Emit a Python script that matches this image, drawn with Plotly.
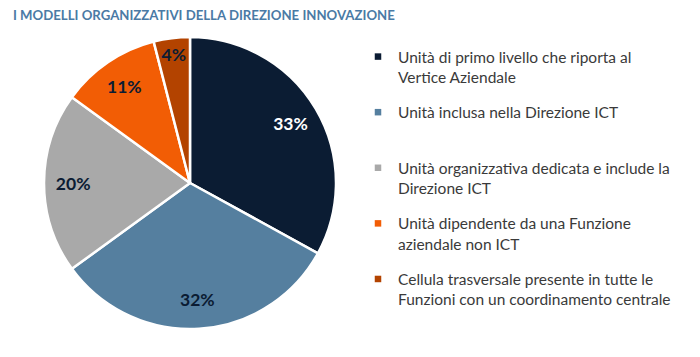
import plotly.graph_objects as go

title_text = "I MODELLI ORGANIZZATIVI DELLA DIREZIONE INNOVAZIONE"
categories = [
    "Unità di primo livello che riporta al<br>Vertice Aziendale",
    "Unità inclusa nella Direzione ICT<br> ",
    "Unità organizzativa dedicata e include la<br>Direzione ICT",
    "Unità dipendente da una Funzione<br>aziendale non ICT",
    "Cellula trasversale presente in tutte le<br>Funzioni con un coordinamento centrale",
]
values = [33, 32, 20, 11, 4]
colors = ["#0B1C33", "#557F9F", "#A9A9A9", "#F25D05", "#B34300"]
label_colors = ["#FFFFFF", "#0B1C33", "#0B1C33", "#0B1C33", "#0B1C33"]

W, H = 700, 357
# the page body adds an 8px offset; positions below are in figure pixels
pie_dom = dict(x=[36 / W, 328 / W], y=[36 / H, 328 / H])

fig = go.Figure()

# coloured slices
fig.add_trace(go.Pie(
    labels=categories,
    values=values,
    sort=False,
    direction="clockwise",
    rotation=0,
    marker=dict(colors=colors, line=dict(color="white", width=2.5)),
    textinfo="none",
    domain=pie_dom,
    showlegend=False,
    hoverinfo="label+percent",
))

# percentage labels placed in the outer ring of the same pie
fig.add_trace(go.Pie(
    labels=categories,
    values=values,
    sort=False,
    direction="clockwise",
    rotation=0,
    hole=0.6,
    marker=dict(colors=["rgba(0,0,0,0)"] * len(values), line=dict(width=0)),
    texttemplate="%{value}%",
    textposition="inside",
    insidetextorientation="horizontal",
    insidetextfont=dict(family="Lato", size=17.5, color=label_colors, weight="bold"),
    domain=pie_dom,
    showlegend=False,
    hoverinfo="skip",
))

# legend entries (one group per category so spacing can be set)
for i, (cat, col) in enumerate(zip(categories, colors)):
    fig.add_trace(go.Scatter(
        x=[None], y=[None], mode="markers", name=cat,
        marker=dict(symbol="square", size=6.5, color=col),
        legendgroup=f"g{i}", showlegend=True, hoverinfo="skip",
    ))

fig.update_layout(
    width=W, height=H,
    margin=dict(l=0, r=0, t=0, b=0),
    paper_bgcolor="white",
    plot_bgcolor="rgba(0,0,0,0)",
    xaxis=dict(visible=False),
    yaxis=dict(visible=False),
    uniformtext=dict(minsize=17.5, mode="show"),
    title=dict(
        text="<b>" + title_text + "</b>",
        x=5 / W, xanchor="left", y=1 - 7 / H, yanchor="middle",
        font=dict(family="Lato", size=13.2, color="#4A7AA5"),
    ),
    legend=dict(
        x=350 / W, xanchor="left",
        y=1 - 32 / H, yanchor="top",
        valign="top",
        itemwidth=30,
        font=dict(family="Lato", size=15.5, color="#3A3A3A"),
        tracegroupgap=12.3,
        bgcolor="rgba(0,0,0,0)",
    ),
    showlegend=True,
)

fig.write_html("out.html")
